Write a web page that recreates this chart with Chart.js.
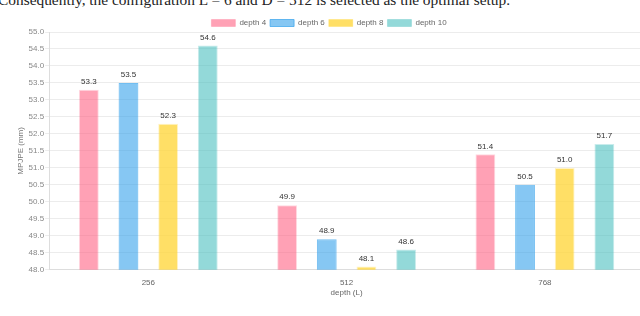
<!DOCTYPE html>
<html>
<head>
<meta charset="utf-8">
<script src="https://cdn.jsdelivr.net/npm/chart.js@4/dist/chart.umd.min.js"></script>
<style>
  html, body { margin: 0; padding: 0; background: #fff; overflow: hidden; }
  body { width: 640px; height: 316px; position: relative; }
  #caption {
    position: absolute; left: -2px; top: -9px; white-space: nowrap;
    font-family: "Liberation Serif", "DejaVu Serif", serif; font-size: 15.4px; color: #222;
  }
  #wrap { position: absolute; left: 0; top: 0; width: 644px; height: 316px; }
</style>
</head>
<body>
<div id="caption">Consequently, the configuration L = 6 and D = 512 is selected as the optimal setup.</div>
<div id="wrap"><canvas id="chart"></canvas></div>
<script>
// Data
const categories = ['256', '512', '768'];
const seriesNames = ['depth 4', 'depth 6', 'depth 8', 'depth 10'];
const depth4 = [53.3, 49.9, 51.4];
const depth6 = [53.5, 48.9, 50.5];
const depth8 = [52.3, 48.1, 51.0];
const depth10 = [54.6, 48.6, 51.7];
const yMin = 48.0;
const yMax = 55.0;
const yStep = 0.5;

const fills = ['rgba(255,99,132,0.6)', 'rgba(54,162,235,0.6)', 'rgba(255,215,64,0.8)', 'rgba(75,192,192,0.6)'];
const borders = ['rgba(255,99,132,0.25)', 'rgba(54,162,235,0.7)', 'rgba(255,215,64,0.3)', 'rgba(75,192,192,0.3)'];

// value labels above bars
const valueLabels = {
  id: 'valueLabels',
  afterDatasetsDraw(chart) {
    const ctx = chart.ctx;
    ctx.save();
    ctx.font = '8px "Liberation Sans", Arial, sans-serif';
    ctx.fillStyle = '#333';
    ctx.textAlign = 'center';
    ctx.textBaseline = 'bottom';
    chart.data.datasets.forEach((ds, i) => {
      chart.getDatasetMeta(i).data.forEach((bar, j) => {
        ctx.fillText(ds.data[j].toFixed(1), bar.x, bar.y - 4);
      });
    });
    ctx.restore();
  }
};

// legend takes a bit less room under it than default
const tightLegend = {
  id: 'tightLegend',
  beforeInit(chart) {
    const fit = chart.legend.fit;
    chart.legend.fit = function () {
      fit.call(this);
      this.height -= 5;
    };
  }
};

const allSeries = [depth4, depth6, depth8, depth10];

new Chart(document.getElementById('chart'), {
  type: 'bar',
  data: {
    labels: categories,
    datasets: allSeries.map((vals, i) => ({
      label: seriesNames[i],
      data: vals,
      backgroundColor: fills[i],
      borderColor: borders[i],
      borderWidth: 1,
      barPercentage: 0.5,
      categoryPercentage: 0.8
    }))
  },
  options: {
    responsive: true,
    maintainAspectRatio: false,
    animation: false,
    layout: { padding: { top: 15, left: 14, right: 0, bottom: 18 } },
    scales: {
      x: {
        grid: { display: false },
        border: { color: '#ddd' },
        ticks: { color: '#666', font: { size: 8 }, padding: 0 },
        title: { display: true, text: 'depth (L)', color: '#666', font: { size: 8 }, padding: { top: 1, bottom: 0 } }
      },
      y: {
        min: yMin,
        max: yMax,
        grid: { color: '#ececec', tickLength: 4 },
        border: { color: '#ddd' },
        ticks: {
          stepSize: yStep,
          color: '#888',
          font: { size: 8 },
          padding: 1,
          callback: v => v.toFixed(1)
        },
        title: { display: true, text: 'MPJPE (mm)', color: '#777', font: { size: 8 }, padding: { top: 2, bottom: 2 } }
      }
    },
    plugins: {
      legend: {
        position: 'top',
        labels: { boxWidth: 24, boxHeight: 7, color: '#666', font: { size: 8 }, padding: 4 }
      },
      tooltip: { enabled: false }
    }
  },
  plugins: [valueLabels, tightLegend]
});
</script>
</body>
</html>
